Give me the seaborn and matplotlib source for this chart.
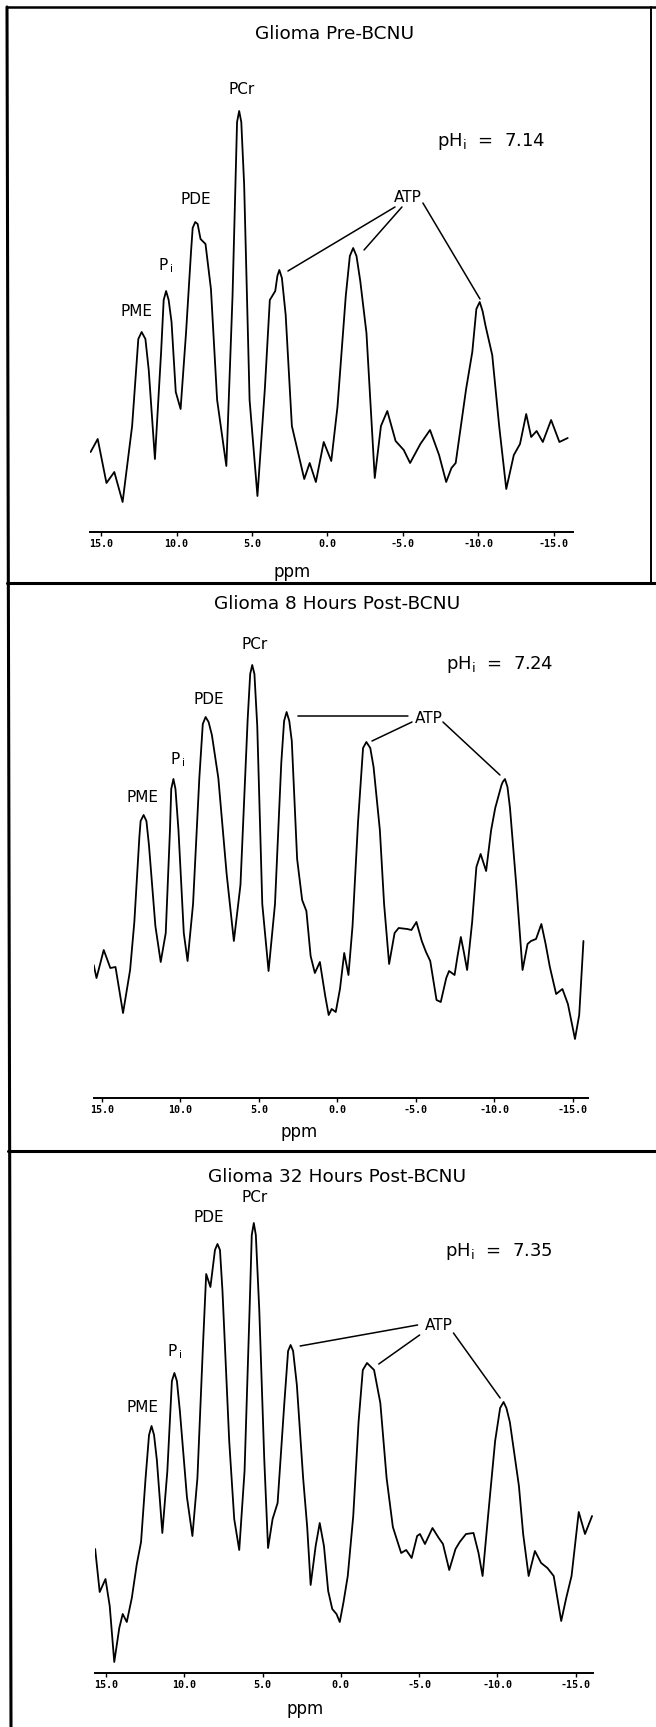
import matplotlib
matplotlib.use("Agg")
import matplotlib.pyplot as plt
import seaborn as sns
from matplotlib.lines import Line2D

# 31P spectra: chemical shift (ppm) and signal height (arb. units)
pre_ppm = [15.69, 15.22, 14.64, 14.12, 13.57, 12.94, 12.53, 12.31, 12.06, 11.84, 11.43, 11.02,
           10.85, 10.69, 10.52, 10.33, 10.05, 9.73, 9.37, 9.04, 8.93, 8.76, 8.60, 8.41, 8.08,
           7.72, 7.31, 6.70, 6.29, 5.99, 5.85, 5.71, 5.52, 5.16, 4.64, 4.15, 3.82, 3.46, 3.32,
           3.19, 3.02, 2.77, 2.36, 1.54, 1.18, 0.77, 0.25, -0.25, -0.66, -1.21, -1.48, -1.70,
           -1.92, -2.17, -2.58, -3.13, -3.54, -3.96, -4.51, -5.05, -5.47, -6.15, -6.79, -7.39,
           -7.86, -8.21, -8.49, -9.18, -9.59, -9.86, -10.08, -10.27, -10.47, -10.91, -11.37,
           -11.84, -12.34, -12.75, -13.16, -13.49, -13.85, -14.26, -14.81, -15.36, -15.91]
pre_int = [80, 93, 49, 60, 30, 106, 193, 200, 193, 162, 73, 180,
           232, 241, 232, 210, 140, 123, 199, 280, 304, 310, 308, 293, 288,
           243, 132, 66, 236, 410, 421, 410, 347, 132, 36, 143, 232, 241, 256,
           262, 254, 217, 106, 53, 69, 50, 90, 71, 125, 236, 276, 284,
           276, 251, 199, 54, 106, 121, 91, 82, 69, 88, 102, 77,
           50, 64, 69, 143, 180, 223, 230, 221, 206, 177, 106,
           43, 77, 88, 118, 95, 101, 90, 112, 90, 94]

h8_ppm = [15.53, 15.35, 14.89, 14.47, 14.14, 13.66, 13.21, 12.94, 12.62, 12.54, 12.35, 12.17,
          12.01, 11.60, 11.26, 10.94, 10.67, 10.59, 10.45, 10.32, 10.13, 9.79, 9.55, 9.20,
          8.80, 8.58, 8.40, 8.21, 8.00, 7.59, 7.06, 6.60, 6.18, 5.72, 5.56, 5.43, 5.29, 5.11,
          4.79, 4.39, 3.98, 3.58, 3.40, 3.24, 3.07, 2.91, 2.57, 2.25, 1.98, 1.71, 1.44, 1.12,
          0.78, 0.56, 0.37, 0.11, -0.16, -0.43, -0.70, -0.96, -1.31, -1.63, -1.84, -2.09,
          -2.30, -2.70, -2.97, -3.29, -3.64, -3.90, -4.44, -4.71, -5.03, -5.37, -5.64, -5.91,
          -6.31, -6.58, -6.93, -7.11, -7.46, -7.65, -7.86, -8.05, -8.26, -8.58, -8.85, -9.12,
          -9.47, -9.79, -10.05, -10.45, -10.53, -10.67, -10.83, -10.99, -11.39, -11.79,
          -12.11, -12.33, -12.65, -12.99, -13.26, -13.53, -13.93, -14.33, -14.68, -15.13,
          -15.40, -15.67]
h8_int = [133, 120, 148, 130, 131, 85, 128, 176, 261, 277, 283, 277,
          253, 172, 136, 165, 268, 309, 319, 309, 268, 165, 137, 194,
          320, 374, 381, 376, 363, 320, 224, 157, 213, 379, 424, 433, 424, 372,
          194, 127, 194, 335, 377, 386, 377, 357, 239, 198, 187, 142, 125, 136,
          102, 83, 89, 86, 109, 145, 123, 172, 276, 350, 356, 350,
          331, 268, 194, 134, 165, 170, 169, 168, 176, 157, 146, 137,
          98, 96, 120, 127, 123, 142, 161, 146, 128, 176, 231, 244,
          227, 268, 290, 313, 316, 319, 311, 290, 213, 128,
          154, 157, 159, 174, 154, 131, 104, 109, 94, 59,
          83, 157]

h32_ppm = [15.69, 15.40, 15.03, 14.76, 14.47, 14.15, 13.93, 13.67, 13.35, 13.03, 12.76, 12.47,
           12.25, 12.09, 11.93, 11.75, 11.40, 11.08, 10.79, 10.63, 10.47, 10.28, 9.83, 9.48,
           9.16, 8.81, 8.60, 8.33, 8.04, 7.88, 7.72, 7.56, 7.13, 6.81, 6.49, 6.15, 5.83, 5.69,
           5.56, 5.43, 5.21, 4.89, 4.65, 4.36, 4.04, 3.61, 3.37, 3.21, 3.05, 2.81, 2.41, 2.15,
           1.93, 1.61, 1.35, 1.08, 0.81, 0.55, 0.28, 0.07, -0.17, -0.44, -0.79, -1.13, -1.40,
           -1.67, -2.12, -2.52, -2.92, -3.32, -3.85, -4.17, -4.52, -4.87, -5.05, -5.37, -5.85,
           -6.25, -6.52, -6.92, -7.32, -7.59, -7.99, -8.47, -8.79, -9.05, -9.40, -9.85, -10.17,
           -10.39, -10.57, -10.79, -11.37, -11.64, -11.99, -12.39, -12.79, -13.19, -13.59,
           -14.07, -14.39, -14.73, -15.19, -15.59, -16.04]
h32_int = [124, 81, 94, 67, 11, 45, 59, 51, 75, 109, 131, 195,
           238, 247, 238, 213, 140, 202, 292, 300, 292, 262, 176, 137,
           195, 326, 399, 386, 423, 429, 423, 382, 232, 154, 123, 202, 363, 438,
           450, 438, 363, 213, 125, 154, 170, 270, 322, 328, 322, 288, 195, 146,
           88, 127, 150, 127, 82, 64, 59, 51, 71, 97, 157, 251, 303,
           310, 303, 270, 195, 146, 120, 123, 115, 137, 139, 129, 145,
           135, 129, 103, 124, 131, 139, 140, 120, 97, 157, 232, 265,
           271, 265, 251, 187, 139, 97, 122, 110, 105, 97,
           52, 75, 97, 161, 139, 157]

tick_values = [15, 10, 5, 0, -5, -10, -15]
tick_labels = ["15.0", "10.0", "5.0", "0.0", "-5.0", "-10.0", "-15.0"]

W, H = 656, 1727

PANELS = [
    {
        "ppm": pre_ppm, "intensity": pre_int,
        "title": "Glioma Pre-BCNU", "ph": "7.14",
        # axes box in pixels: left, right, axis line y
        "box": (90, 573, 532), "xlim": (15.73, -16.26),
        "title_xy": (-0.5, 498), "ph_xy": (-7.25, 390), "ppm_xy": (2.35, -40),
        "labels": {"PCr": (5.66, 443), "PDE": (8.71, 332), "Pi": (10.70, 266),
                   "PME": (12.68, 221), "ATP": (-5.33, 334)},
        "leaders": [((-4.47, 325), (2.62, 261)), ((-4.93, 325), (-2.42, 282)),
                    ((-6.32, 329), (-10.10, 233))],
    },
    {
        "ppm": h8_ppm, "intensity": h8_int,
        "title": "Glioma 8 Hours Post-BCNU", "ph": "7.24",
        "box": (94, 588, 1098), "xlim": (15.51, -15.96),
        "title_xy": (0.03, 494), "ph_xy": (-6.91, 434), "ppm_xy": (2.45, -34),
        "labels": {"PCr": (5.25, 454), "PDE": (8.18, 399), "Pi": (10.16, 338),
                   "PME": (12.39, 301), "ATP": (-5.83, 380)},
        "leaders": [((-4.49, 382), (2.52, 382)), ((-4.75, 376), (-2.20, 357)),
                    ((-6.72, 376), (-10.35, 323))],
    },
    {
        "ppm": h32_ppm, "intensity": h32_int,
        "title": "Glioma 32 Hours Post-BCNU", "ph": "7.35",
        "box": (95, 593, 1673), "xlim": (15.70, -16.10),
        "title_xy": (0.25, 496), "ph_xy": (-6.68, 421), "ppm_xy": (2.29, -36),
        "labels": {"PCr": (5.53, 476), "PDE": (8.45, 455), "Pi": (10.61, 321),
                   "PME": (12.65, 266), "ATP": (-6.23, 348)},
        "leaders": [((-4.90, 348), (2.60, 327)), ((-5.03, 338), (-2.42, 309)),
                    ((-7.19, 340), (-10.17, 275))],
    },
]

AX_HEIGHT = 490  # pixels, one intensity unit per pixel

sns.set_style("white")
plt.rcParams["font.family"] = ["DejaVu Sans"]
plt.rcParams["mathtext.fontset"] = "dejavusans"
plt.rcParams["text.color"] = "black"
plt.rcParams["xtick.color"] = "black"
plt.rcParams["xtick.labelcolor"] = "black"

fig = plt.figure(figsize=(W / 100, H / 100), dpi=100)
fig.patch.set_facecolor("white")


def fig_line(x0, y0, x1, y1, lw=1.8):
    fig.add_artist(Line2D([x0 / W, x1 / W], [1 - y0 / H, 1 - y1 / H],
                          transform=fig.transFigure, color="black", lw=lw))


def draw_panel(p):
    left, right, base = p["box"]
    ax = fig.add_axes([left / W, (H - base) / H, (right - left) / W, AX_HEIGHT / H])
    sns.lineplot(x=p["ppm"], y=p["intensity"], ax=ax, color="black", lw=1.3, sort=False)
    ax.lines[-1].set_solid_joinstyle("round")
    ax.set_xlim(*p["xlim"])
    ax.set_ylim(0, AX_HEIGHT)
    for side in ["top", "left", "right"]:
        ax.spines[side].set_visible(False)
    ax.spines["bottom"].set_linewidth(1.4)
    ax.spines["bottom"].set_color("black")
    ax.set_yticks([])
    ax.set_xticks(tick_values)
    ax.set_xticklabels(tick_labels, family="DejaVu Sans Mono", fontweight="bold",
                       fontsize=7.2, color="black")
    ax.tick_params(axis="x", direction="out", length=3, width=1, pad=2, bottom=True,
                   color="black")
    ax.set_xlabel("")
    ax.set_ylabel("")
    ax.patch.set_alpha(0)

    ax.text(*p["title_xy"], p["title"], ha="center", va="center", fontsize=13.3,
            color="black", clip_on=False)
    ax.text(*p["ph_xy"], "pH$_\\mathrm{i}$  =  " + p["ph"], ha="left", va="center",
            fontsize=13, color="black", clip_on=False)
    ax.text(*p["ppm_xy"], "ppm", ha="center", va="center", fontsize=12, color="black",
            clip_on=False)
    for name, xy in p["labels"].items():
        text = "P$_{\\mathrm{\\,i}}$" if name == "Pi" else name
        ax.text(*xy, text, ha="center", va="center", fontsize=11, color="black",
                clip_on=False)
    for start, end in p["leaders"]:
        ax.annotate("", xy=end, xytext=start,
                    arrowprops=dict(arrowstyle="-", lw=1.1, color="black",
                                    shrinkA=0, shrinkB=0))
    return ax


for panel in PANELS:
    draw_panel(panel)

# outer frame and panel dividers
fig_line(7, 7, 11, 1727, lw=2.2)
fig_line(7, 7, 656, 7)
fig_line(651, 7, 651, 583, lw=1.4)
fig_line(7, 583, 656, 583, lw=2.2)
fig_line(8, 1151, 656, 1151, lw=2.2)

fig.savefig("out.png", dpi=100, facecolor="white")
